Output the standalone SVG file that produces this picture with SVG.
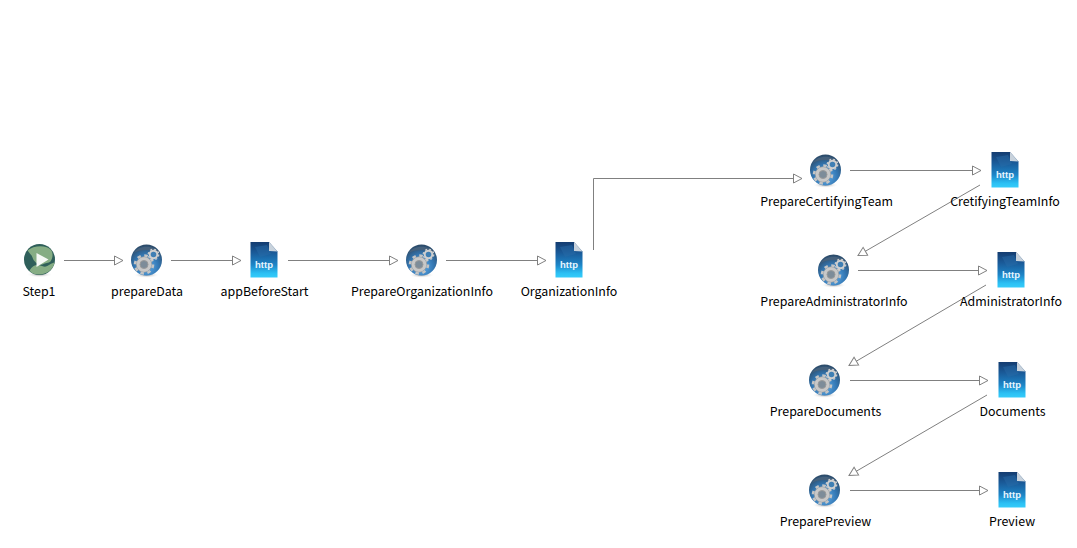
<svg xmlns="http://www.w3.org/2000/svg" width="1077" height="548" viewBox="0 0 1077 548">
<style>
text{font-family:"Noto Sans CJK SC","Liberation Sans",Arial,sans-serif;font-size:12.4px;fill:#000;text-anchor:middle}
.c{fill:none;stroke:#808080;stroke-width:1}
</style>
<defs>
<marker id="arr" markerUnits="userSpaceOnUse" markerWidth="12" markerHeight="12" refX="9.500" refY="5.500" orient="auto">
<path d="M1 1 L9.500 5.500 L1 10 Z" fill="#fff" stroke="#808080"/>
</marker>
<radialGradient id="gb" cx=".5" cy=".72" r=".7"><stop offset="0" stop-color="#62b0ee"/><stop offset=".55" stop-color="#3478b4"/><stop offset="1" stop-color="#2c4a68"/></radialGradient>
<linearGradient id="hb" x1="0" y1="0" x2="0" y2="1"><stop offset="0" stop-color="#143c70"/><stop offset=".3" stop-color="#1a5a98"/><stop offset=".65" stop-color="#1d86c8"/><stop offset=".88" stop-color="#2bc0f4"/><stop offset="1" stop-color="#35ccfa"/></linearGradient>
<radialGradient id="sh"><stop offset="0" stop-color="#999"/><stop offset="1" stop-color="#fff" stop-opacity="0"/></radialGradient>
<g id="start">
<ellipse cx="0" cy="15" rx="13" ry="3" fill="url(#sh)"/>
<circle r="15.500" fill="#2f5f5a"/>
<path d="M-12 -9 C-6 -14 7 -15 12 -9 C14 -5 13 -1 11 2 C9 4 6 3 3 5 C-1 6 -6 2 -7 -2 C-8 -5 -10 -6 -12 -9Z M-10 11 C-6 4 -1 5 4 7 C8 8 12 3 15 3 C14 10 7 15 0 15 C-4 15 -8 14 -10 11Z" fill="#86ad84"/>
<path d="M-3 -6.500 L9 0 L-3 7.500 Z" fill="#f6f9f6"/>
</g>
<g id="gear">
<ellipse cx="0" cy="15" rx="13" ry="3" fill="url(#sh)"/>
<circle r="15.500" fill="url(#gb)"/>
<path d="M-13 -7 C-8 -15.500 8 -15.500 13 -7 C6 -11 -6 -11 -13 -7Z" fill="#46617c"/>
<circle cx="-2.500" cy="4.500" r="7.800" fill="#c8c8c8" stroke="#8e8e8e" stroke-width=".6"/>
<circle cx="-2.500" cy="4.500" r="9" fill="none" stroke="#c4c4c4" stroke-width="2.600" stroke-dasharray="3.500 3.570"/>
<circle cx="-2.500" cy="4.500" r="4" fill="#7d8c99" stroke="#9a9a9a"/>
<circle cx="7" cy="-5.500" r="3.800" fill="#3f7fb4" stroke="#cfcfcf" stroke-width="2"/>
<circle cx="7" cy="-5.500" r="5.300" fill="none" stroke="#cfcfcf" stroke-width="1.200" stroke-dasharray="2 2.160"/>
</g>
<g id="doc">
<path d="M-13.500 -18 L5 -18 L13.500 -8.500 L13.500 17.500 L-13.500 17.500 Z" fill="url(#hb)"/>
<path d="M-9 -13 L3 -15 L7 -6 L-4 -3 Z" fill="#2a6ca8" opacity=".45"/>
<path d="M5 -18 L13.500 -8.500 L5 -9 Z" fill="#c8d2dc"/>
<text x="0" y="8" style="font-family:'Liberation Sans',Arial,sans-serif;font-size:9.500px;font-weight:bold;fill:#e8f6ff">http</text>
</g>
</defs>
<rect width="1077" height="548" fill="#fff"/>
<g id="connectors">
<path class="c" marker-end="url(#arr)" d="M64 260.500H123"/>
<path class="c" marker-end="url(#arr)" d="M171 260.500H241"/>
<path class="c" marker-end="url(#arr)" d="M288 260.500H398"/>
<path class="c" marker-end="url(#arr)" d="M446 260.500H546"/>
<path class="c" marker-end="url(#arr)" d="M593.500 250V178.500H802"/>
<path class="c" marker-end="url(#arr)" d="M850 170.500H981"/>
<path class="c" marker-end="url(#arr)" d="M980 185L858 255.500"/>
<path class="c" marker-end="url(#arr)" d="M858 270.500H987"/>
<path class="c" marker-end="url(#arr)" d="M986 285L849 365.500"/>
<path class="c" marker-end="url(#arr)" d="M850 380.500H988"/>
<path class="c" marker-end="url(#arr)" d="M987 395L849 475.500"/>
<path class="c" marker-end="url(#arr)" d="M850 490.500H988"/>
</g>
<g id="n1"><use href="#start" x="39.500" y="259.500"/><text x="39" y="296">Step1</text></g>
<g id="n2"><use href="#gear" x="146.500" y="260"/><text x="147" y="296">prepareData</text></g>
<g id="n3"><use href="#doc" x="264" y="260"/><text x="264.500" y="296">appBeforeStart</text></g>
<g id="n4"><use href="#gear" x="421.500" y="260"/><text x="422" y="296">PrepareOrganizationInfo</text></g>
<g id="n5"><use href="#doc" x="569" y="260"/><text x="569" y="296">OrganizationInfo</text></g>
<g id="n6"><use href="#gear" x="825.500" y="170"/><text x="826.500" y="206">PrepareCertifyingTeam</text></g>
<g id="n7"><use href="#doc" x="1005" y="170"/><text x="1005" y="206">CretifyingTeamInfo</text></g>
<g id="n8"><use href="#gear" x="833.500" y="270"/><text x="834" y="306">PrepareAdministratorInfo</text></g>
<g id="n9"><use href="#doc" x="1011" y="270"/><text x="1011" y="306">AdministratorInfo</text></g>
<g id="n10"><use href="#gear" x="824.500" y="380"/><text x="825.500" y="416">PrepareDocuments</text></g>
<g id="n11"><use href="#doc" x="1012" y="380"/><text x="1012.500" y="416">Documents</text></g>
<g id="n12"><use href="#gear" x="824.500" y="490"/><text x="825.500" y="526">PreparePreview</text></g>
<g id="n13"><use href="#doc" x="1012" y="490"/><text x="1012" y="526">Preview</text></g>
</svg>
